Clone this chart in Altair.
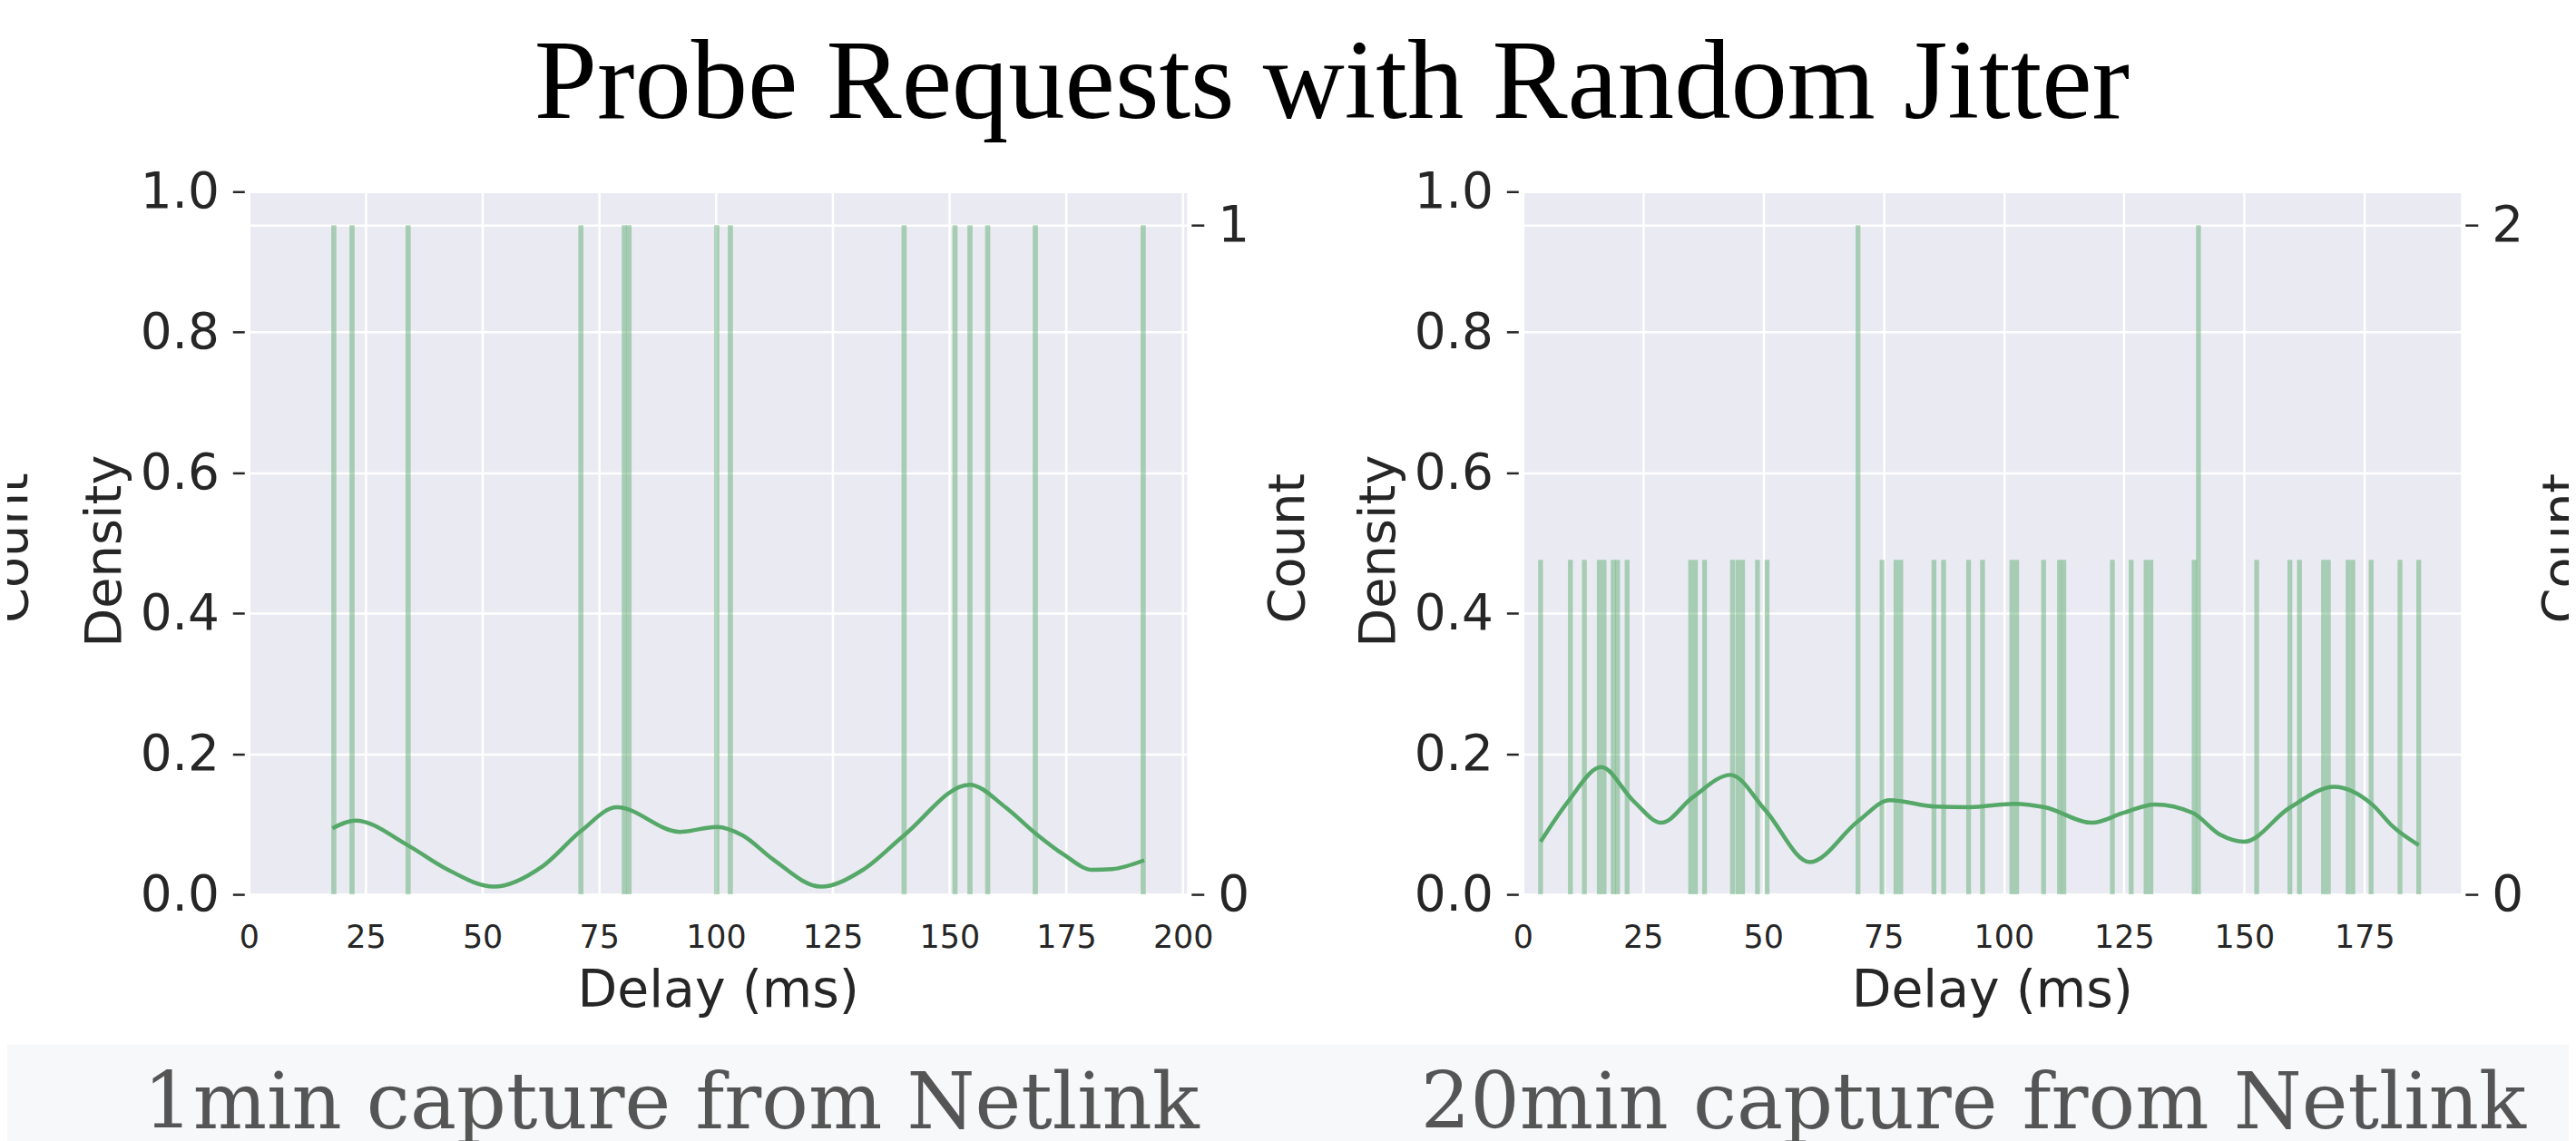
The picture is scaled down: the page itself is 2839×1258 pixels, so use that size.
import altair as alt
import pandas as pd

TITLE = "Probe Requests with Random Jitter"
CAPTIONS = ["1min capture from Netlink", "20min capture from Netlink"]
X_LABEL = "Delay (ms)"
LEFT_LABEL = "Density"
RIGHT_LABEL = "Count"

# ---- panel 1 (1 min capture) ----
p1_bar_centers = [18.2, 22.1, 34.1, 71.1, 80.4, 81.4, 100.2, 103.1, 140.3, 151.2, 154.4, 158.2, 168.4, 191.5]
p1_bar_counts = [1, 1, 1, 1, 1, 1, 1, 1, 1, 1, 1, 1, 1, 1]
p1_kde_x = [17.9, 22.8, 34.0, 42.1, 52.5, 62.9, 71.1, 78.8, 92.3, 100.2, 105.7, 112.2, 122.5,
            131.5, 140.3, 154.3, 162.0, 168.4, 174.4, 180.6, 184.8, 191.7]
p1_kde_y = [0.094, 0.105, 0.070, 0.037, 0.011, 0.040, 0.090, 0.124, 0.089, 0.096, 0.084, 0.050, 0.011,
            0.035, 0.084, 0.156, 0.124, 0.087, 0.057, 0.035, 0.036, 0.0485]
p1_x_ticks = [0, 25, 50, 75, 100, 125, 150, 175, 200]
p1_count_ticks = [0, 1]

# ---- panel 2 (20 min capture) ----
p2_bar_centers = [3.7, 9.9, 12.8, 15.9, 16.9, 18.8, 19.7, 21.7, 34.9, 35.9, 37.8, 43.6, 44.7, 45.7,
                  48.8, 50.8, 69.7, 74.7, 77.6, 78.6, 85.5, 87.5, 92.7, 95.6, 101.7, 102.7, 108.3,
                  111.6, 112.5, 122.6, 126.5, 129.6, 130.6, 139.6, 140.5, 152.6, 159.5, 161.5,
                  166.5, 167.5, 171.6, 172.6, 176.4, 182.4, 186.3]
p2_bar_counts = [1, 1, 1, 1, 1, 1, 1, 1, 1, 1, 1, 1, 1, 1,
                 1, 1, 2, 1, 1, 1, 1, 1, 1, 1, 1, 1, 1,
                 1, 1, 1, 1, 1, 1, 1, 2, 1, 1, 1,
                 1, 1, 1, 1, 1, 1, 1]
p2_kde_x = [3.7, 9.5, 16.3, 23.0, 28.8, 35.3, 43.2, 50.4, 59.7, 69.7, 76.3, 85.7, 92.9, 102.2,
            108.5, 118.4, 124.9, 131.4, 139.3, 145.0, 150.0, 159.4, 168.7, 176.6, 181.0, 186.3]
p2_kde_y = [0.075, 0.133, 0.181, 0.133, 0.102, 0.138, 0.170, 0.120, 0.046, 0.104, 0.134, 0.125, 0.124,
            0.129, 0.124, 0.102, 0.116, 0.128, 0.116, 0.085, 0.075, 0.123, 0.153, 0.128, 0.096, 0.070]
p2_x_ticks = [0, 25, 50, 75, 100, 125, 150, 175]
p2_count_ticks = [0, 1, 2]

density_ticks = [0.0, 0.2, 0.4, 0.6, 0.8, 1.0]

GREEN = "#55a868"
BG = "#eaeaf2"
TXT = "#262626"
SANS = "DejaVu Sans"

W, H = 1037, 777


def text_layer(text, x, y, **kw):
    df = pd.DataFrame({"t": [text]})
    return alt.Chart(df).mark_text(**kw).encode(x=alt.value(x), y=alt.value(y), text="t:N")


def panel(centers, counts, bw, kx, ky, xdom, xticks, count_max, count_ticks, extras):
    bars = pd.DataFrame({
        "x0": [c - bw / 2 for c in centers],
        "x1": [c + bw / 2 for c in centers],
        "count": counts,
    })
    kde = pd.DataFrame({"x": kx, "density": ky})
    xscale = alt.Scale(domain=xdom, nice=False, zero=False)
    xaxis = alt.Axis(
        values=xticks, title=X_LABEL, grid=True, gridColor="white", gridWidth=2.5,
        ticks=False, tickSize=0, domain=False, labelFlush=False, labelOverlap=False,
        labelFontSize=35, labelColor=TXT, labelBaseline="alphabetic", labelPadding=59,
        titleFontSize=57, titleColor=TXT, titleFontWeight="normal",
        titleX=W / 2, titleY=124, titleBaseline="alphabetic", titleAlign="center",
    )
    count_axis = alt.Axis(
        orient="right", values=count_ticks, format="d", title=RIGHT_LABEL,
        grid=True, gridColor="white", gridWidth=2.5, domain=False,
        offset=4.5, tickSize=14, tickWidth=2.5, tickColor=TXT,
        labelFontSize=55, labelColor=TXT, labelPadding=15, labelFlush=False,
        titleFontSize=56, titleColor=TXT, titleFontWeight="normal", titleAngle=270,
        titleX=124, titleY=394, titleBaseline="alphabetic", titleAlign="center",
    )
    dens_axis = alt.Axis(
        orient="left", values=density_ticks, format=".1f", title=LEFT_LABEL,
        grid=True, gridColor="white", gridWidth=2.5, domain=False,
        offset=5, tickSize=13, tickWidth=2.5, tickColor=TXT,
        labelFontSize=55, labelColor=TXT, labelPadding=15, labelFlush=False,
        titleFontSize=56, titleColor=TXT, titleFontWeight="normal", titleAngle=270,
        titleX=-137, titleY=397, titleBaseline="alphabetic", titleAlign="center",
    )
    bar_layer = alt.Chart(bars).mark_rect(color=GREEN, opacity=0.45).encode(
        x=alt.X("x0:Q", scale=xscale, axis=xaxis),
        x2="x1:Q",
        y=alt.Y("count:Q", scale=alt.Scale(domain=[0, count_max], nice=False), axis=count_axis),
        y2=alt.datum(0),
    )
    kde_layer = alt.Chart(kde).mark_line(color=GREEN, strokeWidth=4.5, interpolate="monotone").encode(
        x=alt.X("x:Q", scale=xscale, axis=xaxis),
        y=alt.Y("density:Q", scale=alt.Scale(domain=[0, 1], nice=False), axis=dens_axis),
    )
    return alt.layer(*extras, bar_layer, kde_layer).resolve_scale(y="independent").properties(
        width=W, height=H
    )


band_df = pd.DataFrame({"a": [0]})
band = alt.Chart(band_df).mark_rect(color="#f7f8fa").encode(
    x=alt.value(-270), x2=alt.value(2570), y=alt.value(943), y2=alt.value(1070)
)

p1_extras = [
    band,
    text_layer(CAPTIONS[0], 467, 1036, font="DejaVu Serif", fontSize=86, color="#555555",
               align="center", baseline="alphabetic"),
    text_layer(TITLE, 1197, -82, font="Liberation Serif", fontSize=125, color="black",
               align="center", baseline="alphabetic"),
    text_layer(RIGHT_LABEL, -245, 394, font=SANS, fontSize=56, color=TXT, angle=270,
               align="center", baseline="alphabetic"),
]
p2_extras = [
    text_layer(CAPTIONS[1], 498, 1036, font="DejaVu Serif", fontSize=86, color="#555555",
               align="center", baseline="alphabetic"),
]

p1 = panel(p1_bar_centers, p1_bar_counts, 1.1, p1_kde_x, p1_kde_y, [0, 200.9], p1_x_ticks,
           1.05, p1_count_ticks, p1_extras)
p2 = panel(p2_bar_centers, p2_bar_counts, 1.0, p2_kde_x, p2_kde_y, [0, 195.1], p2_x_ticks,
           2.1, p2_count_ticks, p2_extras)

chart = alt.hconcat(p1, p2, spacing=371, bounds="flush").properties(
    autosize=alt.AutoSizeParams(type="none"),
    padding={"left": 267, "top": 201, "right": 2564, "bottom": 1041},
    background="white",
).configure_view(strokeWidth=0, fill=BG).configure_axis(
    labelFont=SANS, titleFont=SANS
)

chart.save("out.html", embed_options={"renderer": "svg", "actions": False})
